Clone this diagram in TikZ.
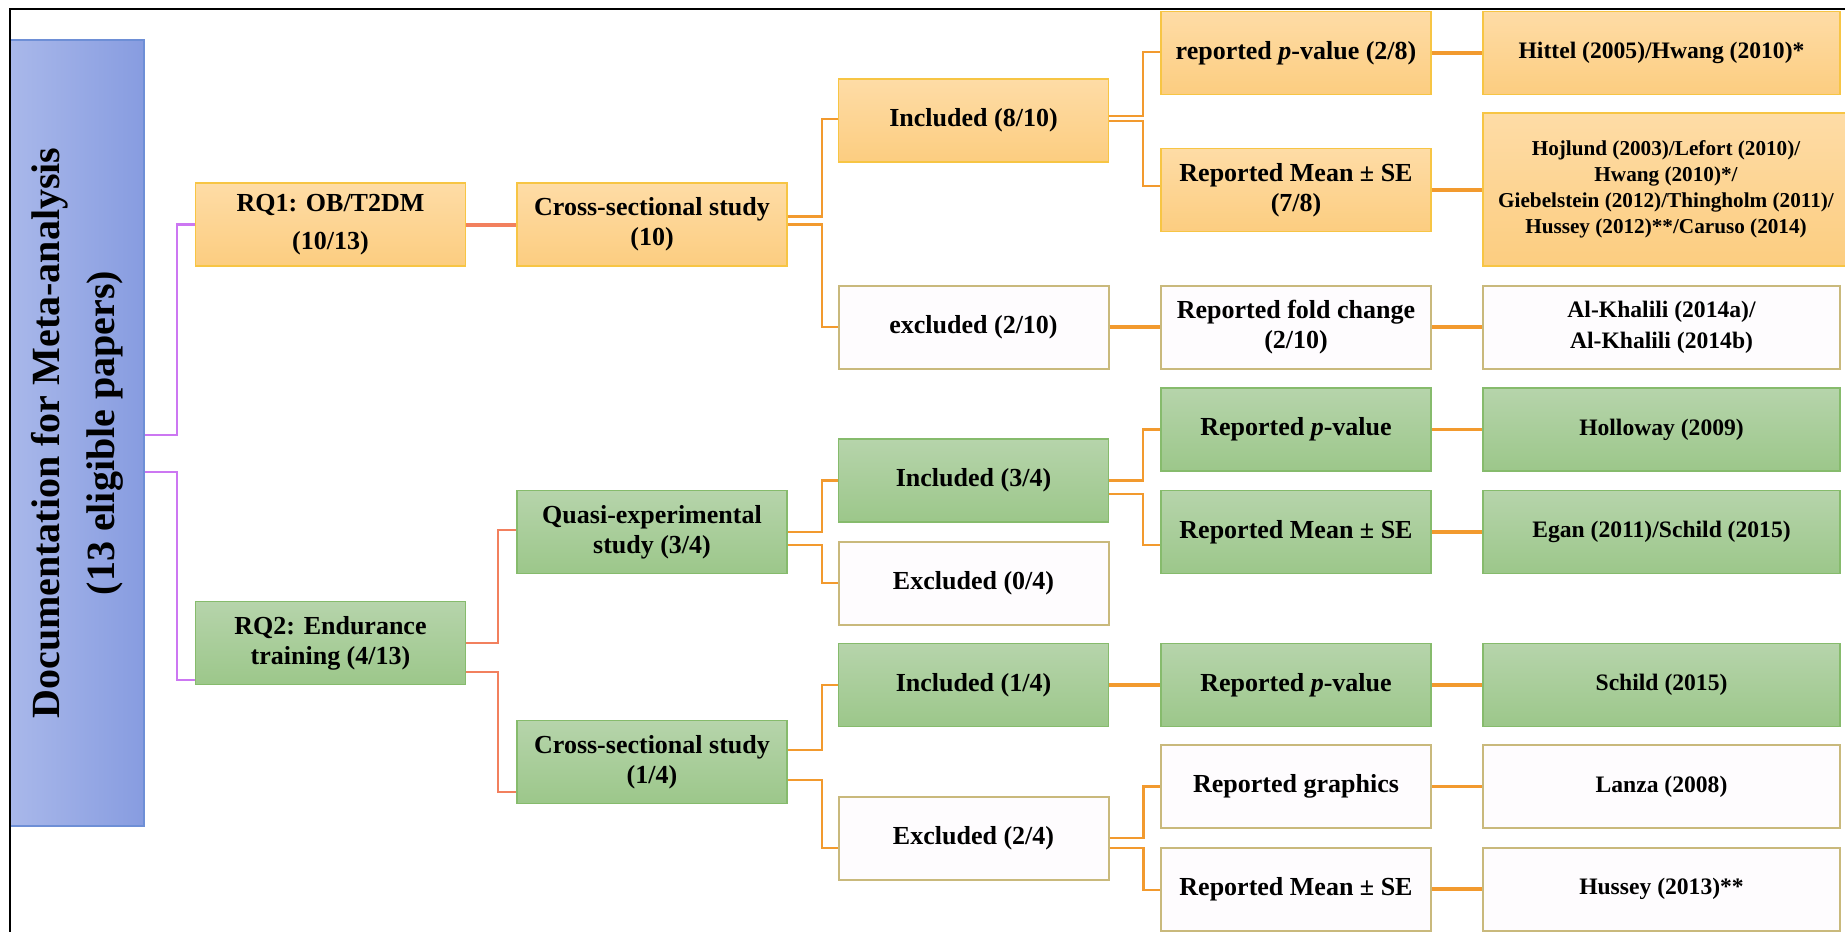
\documentclass[tikz,border=0pt]{standalone}
\usepackage{fontspec}
\setmainfont{Liberation Serif}
\usepackage{xcolor}
\usepackage{tikz}
\usetikzlibrary{calc}

\definecolor{otop}{HTML}{FEDCA6}
\definecolor{obot}{HTML}{FCCD80}
\definecolor{oborder}{HTML}{F7C544}
\definecolor{gtop}{HTML}{B6D4AB}
\definecolor{gbot}{HTML}{9CC78A}
\definecolor{gborder}{HTML}{86BB6C}
\definecolor{wfill}{HTML}{FEFCFE}
\definecolor{wborder}{HTML}{C9B97C}
\definecolor{btop}{HTML}{A9B8EA}
\definecolor{bbot}{HTML}{879CE0}
\definecolor{bborder}{HTML}{6E8FD6}
\definecolor{lpurple}{HTML}{CC77F2}
\definecolor{lred}{HTML}{F2805E}
\definecolor{lorange}{HTML}{F29A2E}

\begin{document}
\begin{tikzpicture}[
    x=0.5pt, y=-0.5pt,
    every node/.style={font=\fontsize{13}{15}\selectfont\bfseries, align=center},
    box/.style={
        minimum width=135pt,
        minimum height=41.5pt,
        inner sep=2pt
    },
    obox/.style={box, draw=oborder, line width=0.8pt, top color=otop, bottom color=obot},
    gbox/.style={box, draw=gborder, line width=0.8pt, top color=gtop, bottom color=gbot},
    wbox/.style={box, draw=wborder, line width=1pt, fill=wfill},
    refbox/.style={minimum width=178.5pt, font=\fontsize{11.8}{14}\selectfont\bfseries},
    purline/.style={lpurple, line width=1.1pt},
    redline/.style={lred, line width=1.1pt},
    redlink/.style={lred, line width=2pt},
    orline/.style={lorange, line width=1.1pt},
    orlink/.style={lorange, line width=1.6pt}
]

\useasboundingbox (0,0) rectangle (1845,931);

% left title bar
\node[rotate=90, draw=bborder, line width=0.8pt, left color=btop, right color=bbot,
      minimum width=393pt, minimum height=67pt,
      font=\fontsize{20}{27.5}\selectfont\bfseries] (doc) at (77,433)
    {Documentation for Meta-analysis\\(13 eligible papers)};

% research questions
\node[obox] (rq1) at (330.5,224.5) {RQ1: OB/T2DM\\[4pt](10/13)};
\node[gbox] (rq2) at (330.5,643) {RQ2: Endurance\\training (4/13)};

% study designs
\node[obox] (cs1) at (652,224.5) {Cross-sectional study\\(10)};
\node[gbox] (quasi) at (652,532) {Quasi-experimental\\study (3/4)};
\node[gbox] (cs2) at (652,762) {Cross-sectional study\\(1/4)};

% included / excluded
\node[obox] (inc1) at (973.5,120.5) {Included (8/10)};
\node[wbox] (exc1) at (973.5,327) {excluded (2/10)};
\node[gbox] (inc2) at (973.5,480.5) {Included (3/4)};
\node[wbox] (exc2) at (973.5,583) {Excluded (0/4)};
\node[gbox] (inc3) at (973.5,685) {Included (1/4)};
\node[wbox] (exc3) at (973.5,838) {Excluded (2/4)};

% reported data
\node[obox] (pv1) at (1296,53) {reported \textit{p}-value (2/8)};
\node[obox] (mse1) at (1296,190) {Reported Mean ± SE\\(7/8)};
\node[wbox] (fold) at (1296,327) {Reported fold change\\(2/10)};
\node[gbox] (pv2) at (1296,429.5) {Reported \textit{p}-value};
\node[gbox] (mse2) at (1296,532) {Reported Mean ± SE};
\node[gbox] (pv3) at (1296,685) {Reported \textit{p}-value};
\node[wbox] (graph) at (1296,786.5) {Reported graphics};
\node[wbox] (mse3) at (1296,889) {Reported Mean ± SE};

% papers
\node[obox, refbox] (ref1) at (1661.5,53) {Hittel (2005)/Hwang (2010)*};
\node[obox, refbox, minimum width=183pt, minimum height=76.5pt,
      font=\fontsize{10.6}{13}\selectfont\bfseries] (ref2) at (1666,189.5)
    {Hojlund (2003)/Lefort (2010)/\\Hwang (2010)*/\\Giebelstein (2012)/Thingholm (2011)/\\Hussey (2012)**/Caruso (2014)};
\node[wbox, refbox, font=\fontsize{11.8}{15.5}\selectfont\bfseries] (ref3) at (1661.5,327)
    {Al-Khalili (2014a)/\\Al-Khalili (2014b)};
\node[gbox, refbox] (ref4) at (1661.5,429.5) {Holloway (2009)};
\node[gbox, refbox] (ref5) at (1661.5,532) {Egan (2011)/Schild (2015)};
\node[gbox, refbox] (ref6) at (1661.5,685) {Schild (2015)};
\node[wbox, refbox] (ref7) at (1661.5,786.5) {Lanza (2008)};
\node[wbox, refbox] (ref8) at (1661.5,889) {Hussey (2013)**};

% connectors
\draw[purline] ($(doc.south)+(0,2)$) -- ++(32,0) |- (rq1.west);
\draw[purline] ($(doc.south)+(0,39)$) -- ++(32,0) |- ($(rq2.west)+(0,37)$);

\draw[redlink] (rq1) -- (cs1);
\draw[redline] (rq2.east) -- ++(32,0) |- ($(quasi.west)+(0,-2)$);
\draw[redline] ($(rq2.east)+(0,29)$) -- ++(32,0) |- ($(cs2.west)+(0,30)$);

\draw[orline] ($(cs1.east)+(0,-8)$) -- ++(34,0) |- ($(inc1.west)+(0,-1.5)$);
\draw[orline] (cs1.east) -- ++(34,0) |- (exc1.west);
\draw[orline] (quasi.east) -- ++(34,0) |- (inc2.west);
\draw[orline] ($(quasi.east)+(0,13)$) -- ++(34,0) |- (exc2.west);
\draw[orline] ($(cs2.east)+(0,-12)$) -- ++(34,0) |- (inc3.west);
\draw[orline] ($(cs2.east)+(0,18)$) -- ++(34,0) |- ($(exc3.west)+(0,10)$);

\draw[orline] ($(inc1.east)+(0,-4.5)$) -- ++(34,0) |- ($(pv1.west)+(0,-1)$);
\draw[orline] ($(inc1.east)+(0,0.5)$) -- ++(34,0) |- ($(mse1.west)+(0,-4)$);
\draw[orline] (inc2.east) -- ++(34,0) |- (pv2.west);
\draw[orline] ($(inc2.east)+(0,13.5)$) -- ++(34,0) |- ($(mse2.west)+(0,13)$);
\draw[orline] (exc3.east) -- ++(34,0) |- (graph.west);
\draw[orline] ($(exc3.east)+(0,10)$) -- ++(34,0) |- ($(mse3.west)+(0,1)$);
\draw[orlink] (exc1) -- (fold);
\draw[orlink] (inc3) -- (pv3);

\draw[orlink] (pv1) -- (ref1);
\draw[orlink] (mse1.east) -- (mse1.east -| ref2.west);
\draw[orlink] (fold) -- (ref3);
\draw[orlink] (pv2) -- (ref4);
\draw[orlink] (mse2) -- (ref5);
\draw[orlink] (pv3) -- (ref6);
\draw[orlink] (graph) -- (ref7);
\draw[orlink] (mse3) -- (ref8);

% frame
\draw[line width=1.1pt] (10,940) -- (10,9) -- (1850,9);

\end{tikzpicture}
\end{document}
